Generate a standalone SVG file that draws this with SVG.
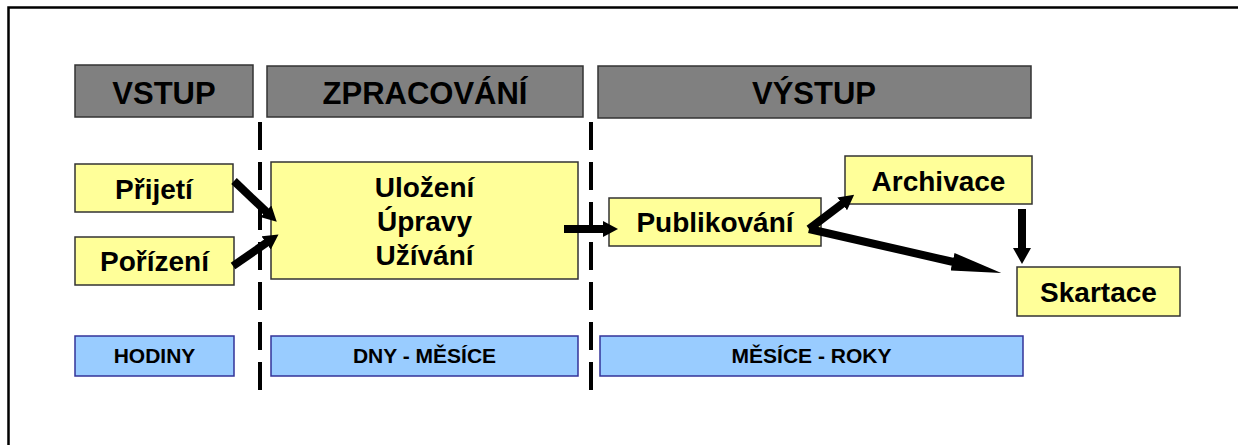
<svg xmlns="http://www.w3.org/2000/svg" width="1238" height="445" viewBox="0 0 1238 445">
  <style>
    text { font-family: "Liberation Sans", Arial, sans-serif; font-weight: bold; fill: #000; text-anchor: middle; }
    .hdr rect { fill: #808080; stroke: #333333; stroke-width: 1.5; }
    .hdr text { font-size: 31px; }
    .step rect { fill: #FFFF99; stroke: #333333; stroke-width: 1.5; }
    .step text { font-size: 28px; }
    .span rect { fill: #99CCFF; stroke: #333399; stroke-width: 1.5; }
    .span text { font-size: 21px; }
    .divider { stroke: #000; stroke-width: 4; stroke-dasharray: 28 12; fill: none; }
    .flow { stroke: #000; stroke-width: 8; fill: none; }
  </style>
  <defs>
    <marker id="head" markerUnits="userSpaceOnUse" viewBox="0 0 15 16" markerWidth="15" markerHeight="16" refX="1" refY="8" orient="auto">
      <path d="M0,0 L15,8 L0,16 z" fill="#000"/>
    </marker>
    <marker id="headDown" markerUnits="userSpaceOnUse" viewBox="0 0 16 18" markerWidth="16" markerHeight="18" refX="1" refY="9" orient="auto">
      <path d="M0,0 L16,9 L0,18 z" fill="#000"/>
    </marker>
    <marker id="headLong" markerUnits="userSpaceOnUse" viewBox="0 0 50 18" markerWidth="50" markerHeight="18" refX="1" refY="9" orient="auto">
      <path d="M0,0 L50,9 L0,18 z" fill="#000"/>
    </marker>
  </defs>

  <rect width="1238" height="445" fill="#fff"/>
  <!-- outer frame -->
  <path d="M8.5,445 V7.5 H1238" fill="none" stroke="#000" stroke-width="2.5"/>

  <!-- phase headers -->
  <g id="hdr-vstup" class="hdr">
    <rect x="75" y="65" width="178" height="52"/>
    <text x="164" y="104">VSTUP</text>
  </g>
  <g id="hdr-zpracovani" class="hdr">
    <rect x="267" y="66" width="316" height="51"/>
    <text x="425" y="104">ZPRACOVÁNÍ</text>
  </g>
  <g id="hdr-vystup" class="hdr">
    <rect x="598" y="66" width="433" height="52"/>
    <text x="814" y="104">VÝSTUP</text>
  </g>

  <!-- phase dividers -->
  <g id="dividers">
    <line class="divider" x1="260" y1="122" x2="260" y2="390"/>
    <line class="divider" x1="591" y1="122" x2="591" y2="390"/>
  </g>

  <!-- process steps -->
  <g id="prijeti" class="step">
    <rect x="75" y="164" width="158" height="48"/>
    <text x="154" y="199">Přijetí</text>
  </g>
  <g id="porizeni" class="step">
    <rect x="75" y="237" width="159" height="48"/>
    <text x="154.5" y="271">Pořízení</text>
  </g>
  <g id="zpracovani" class="step">
    <rect x="271" y="162" width="307" height="117"/>
    <text x="424.5" y="197">Uložení</text>
    <text x="424.5" y="231">Úpravy</text>
    <text x="424.5" y="265">Užívání</text>
  </g>
  <g id="publikovani" class="step">
    <rect x="609" y="198" width="212" height="48"/>
    <text x="715" y="232">Publikování</text>
  </g>
  <g id="archivace" class="step">
    <rect x="845" y="156" width="187" height="48"/>
    <text x="938.5" y="191">Archivace</text>
  </g>
  <g id="skartace" class="step">
    <rect x="1017" y="267" width="163" height="49"/>
    <text x="1098.5" y="302">Skartace</text>
  </g>

  <!-- time spans -->
  <g id="span-hodiny" class="span">
    <rect x="75" y="336" width="159" height="40"/>
    <text x="154.5" y="363">HODINY</text>
  </g>
  <g id="span-dny" class="span">
    <rect x="271" y="336" width="307" height="40"/>
    <text x="424.5" y="363">DNY - MĚSÍCE</text>
  </g>
  <g id="span-roky" class="span">
    <rect x="600" y="336" width="423" height="40"/>
    <text x="811.5" y="363">MĚSÍCE - ROKY</text>
  </g>

  <!-- connectors -->
  <g id="connectors">
    <line class="flow" x1="234" y1="181" x2="266.6" y2="212" marker-end="url(#head)"/>
    <line class="flow" x1="233" y1="266" x2="267" y2="242.4" marker-end="url(#head)"/>
    <line class="flow" x1="564" y1="229" x2="604" y2="229" marker-end="url(#head)"/>
    <line class="flow" x1="809" y1="229" x2="843" y2="203.3" marker-end="url(#head)"/>
    <line class="flow" stroke-width="9" x1="809" y1="229" x2="953.5" y2="262" marker-end="url(#headLong)"/>
    <line class="flow" stroke-width="9" x1="1022" y1="209" x2="1022" y2="249" marker-end="url(#headDown)"/>
  </g>
</svg>
